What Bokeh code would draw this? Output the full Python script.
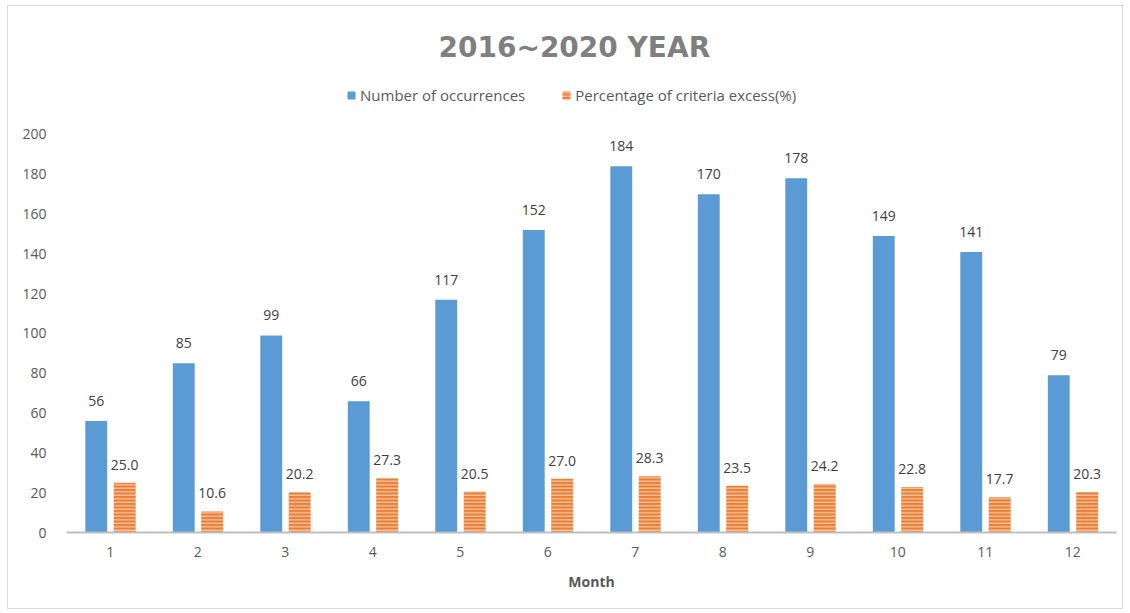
from bokeh.plotting import figure
from bokeh.models import ColumnDataSource, Legend, LegendItem, FixedTicker, Range1d, Title
from bokeh.transform import dodge
from bokeh.embed import file_html
from bokeh.resources import INLINE
from bokeh.core.properties import value

months = [1, 2, 3, 4, 5, 6, 7, 8, 9, 10, 11, 12]
occurrences = [56, 85, 99, 66, 117, 152, 184, 170, 178, 149, 141, 79]
excess_pct = [25.0, 10.6, 20.2, 27.3, 20.5, 27.0, 28.3, 23.5, 24.2, 22.8, 17.7, 20.3]
y_ticks = [0, 20, 40, 60, 80, 100, 120, 140, 160, 180, 200]

FONT = "Open Sans"
src = ColumnDataSource(dict(
    x=months, occ=occurrences, pct=excess_pct,
    occ_lbl=[str(v) for v in occurrences],
    pct_lbl=["%.1f" % v for v in excess_pct],
))

p = figure(width=1116, height=604, output_backend="svg", toolbar_location=None,
           x_range=Range1d(0.5, 12.5), y_range=Range1d(0, 225.1),
           min_border_left=58, min_border_right=8, min_border_top=78, min_border_bottom=78)
p.margin = (5, 0, 0, 7)
p.styles = {"border": "1px solid #d9d9d9"}
p.outline_line_color = None
p.grid.grid_line_color = None

b1 = p.vbar(x=dodge("x", -0.16, range=p.x_range), top="occ", width=0.25, source=src,
            fill_color="#5B9BD5", line_color=None)
b2 = p.vbar(x=dodge("x", 0.165, range=p.x_range), top="pct", width=0.25, source=src,
            fill_color="#ED7D31", line_color=None,
            hatch_pattern="horizontal_line", hatch_color="white", hatch_scale=3.5, hatch_weight=1,
            hatch_alpha=0.75)

p.text(x=dodge("x", -0.16, range=p.x_range), y="occ", text="occ_lbl", source=src,
       text_align="center", text_baseline="middle", y_offset=-20,
       text_font=value(FONT), text_font_size="14px", text_color="#404040")
p.text(x=dodge("x", 0.165, range=p.x_range), y="pct", text="pct_lbl", source=src,
       text_align="center", text_baseline="middle", y_offset=-18,
       text_font=value(FONT), text_font_size="14px", text_color="#404040")

p.xaxis.ticker = FixedTicker(ticks=months)
p.yaxis.ticker = FixedTicker(ticks=y_ticks)
for ax in (p.xaxis, p.yaxis):
    ax.major_tick_line_color = None
    ax.minor_tick_line_color = None
    ax.major_label_text_font = FONT
    ax.major_label_text_font_size = "14px"
    ax.major_label_text_color = "#595959"
p.yaxis.axis_line_color = None
p.yaxis.major_label_standoff = 14
p.xaxis.axis_line_color = "#bfbfbf"
p.xaxis.axis_line_width = 2
p.xaxis.major_label_standoff = 8
p.xaxis.axis_label = "Month"
p.xaxis.axis_label_text_font = FONT
p.xaxis.axis_label_text_font_style = "bold"
p.xaxis.axis_label_text_font_size = "14px"
p.xaxis.axis_label_text_color = "#595959"
p.xaxis.axis_label_standoff = 12

legend = Legend(items=[LegendItem(label="Number of occurrences", renderers=[b1]),
                       LegendItem(label="Percentage of criteria excess(%)", renderers=[b2])],
                orientation="horizontal", location=(280, 427),
                label_text_font=FONT, label_text_font_size="15px", label_text_color="#595959",
                glyph_width=10, glyph_height=10, spacing=36, label_standoff=4,
                border_line_color=None, background_fill_alpha=0,
                margin=0, padding=2)
p.add_layout(legend, "center")

title = Title(text="2016~2020 YEAR", align="left", text_font="DejaVu Sans", text_font_style="bold",
              text_font_size="28px", text_color="#7f7f7f", standoff=41, offset=372)
p.add_layout(title, "above")

open("out.html", "w").write(file_html(p, INLINE))
